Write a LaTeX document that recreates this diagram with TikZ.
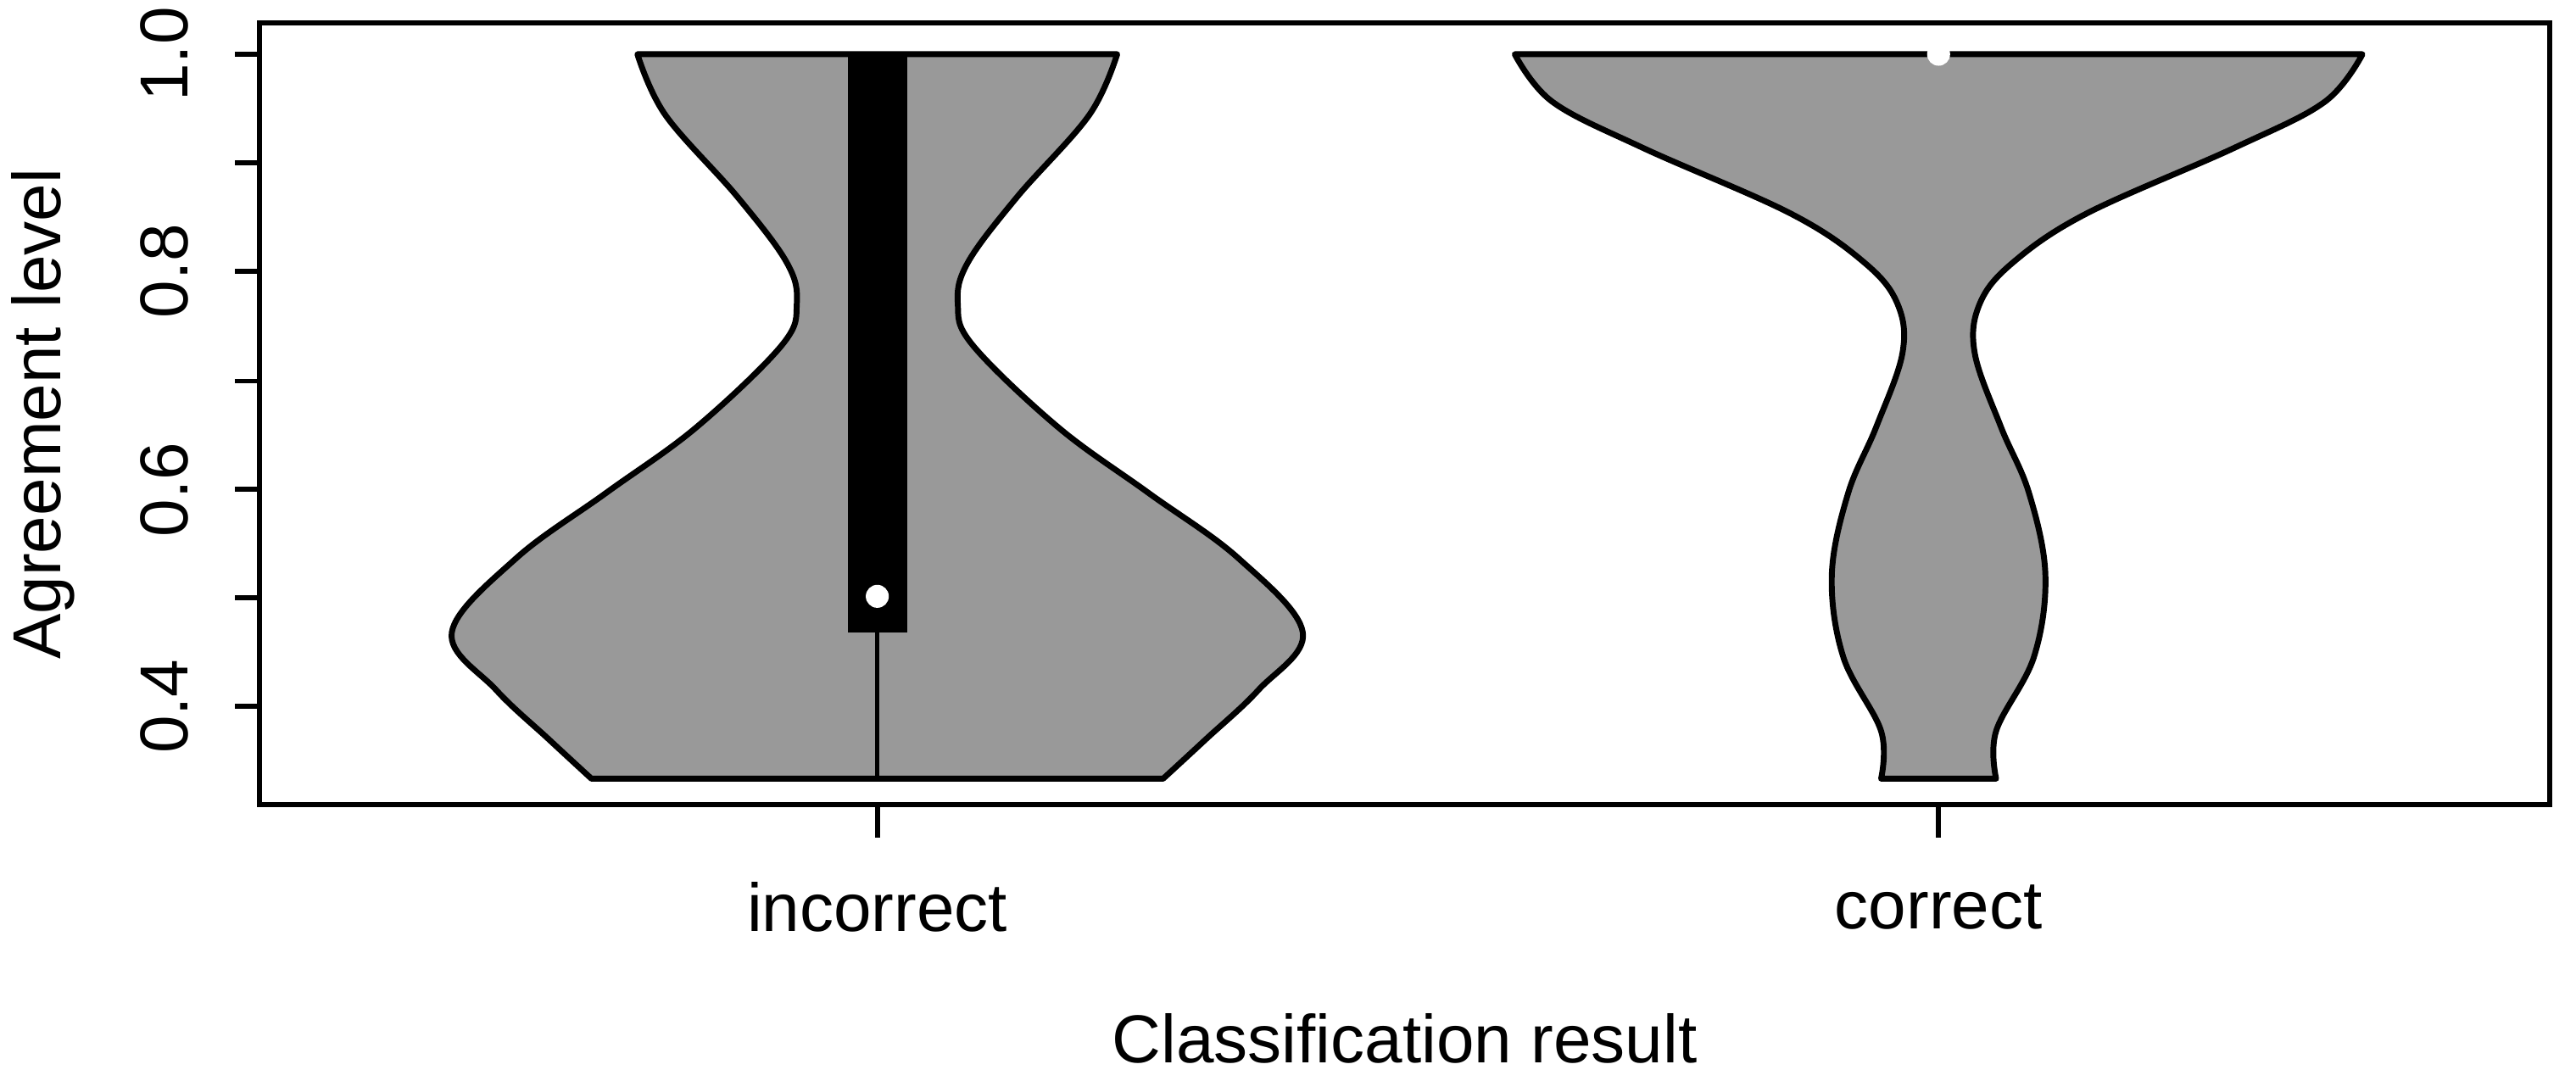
\documentclass[tikz,border=0pt]{standalone}
\usepackage{fontspec}
\setmainfont{Liberation Sans}
\usepackage{tikz}
\begin{document}
\begin{tikzpicture}[x=0.012755cm,y=-0.012755cm]
    \tikzstyle{violin}=[draw=black,line width=1.3pt,fill=black!40,line join=round]
    \tikzstyle{tick}=[line width=1.1pt]
    \tikzstyle{annot}=[font=\fontsize{15}{18}\selectfont]
    \useasboundingbox (0,0) rectangle (1568,658);

    % violins
    \draw[violin] (680,33) -- (388,33) -- plot[smooth,tension=0.6] coordinates {(388,33)(405,70)(449,120)(479,160)(485,185)(476,210)(424,260)(369,300)(314,340)(275,385)(302,420)(334,450)(360,474)}
        -- plot[smooth,tension=0.6] coordinates {(708,474)(734,450)(766,420)(793,385)(754,340)(699,300)(644,260)(592,210)(583,185)(589,160)(619,120)(663,70)(680,33)} -- cycle;
    \draw[violin] (1438,33) -- (922,33) -- plot[smooth,tension=0.6] coordinates {(922,33)(945,62)(1000,90)(1090,130)(1135,160)(1155,185)(1158,215)(1142,260)(1125,300)(1115,350)(1122,400)(1145,445)(1145,474)}
        -- plot[smooth,tension=0.6] coordinates {(1215,474)(1215,445)(1238,400)(1245,350)(1235,300)(1218,260)(1202,215)(1205,185)(1225,160)(1270,130)(1360,90)(1415,62)(1438,33)} -- cycle;

    % box plot
    \draw[line width=1pt] (534,385) -- (534,474);
    \fill (516,33) rectangle (552,385);
    \fill[white] (534,363) circle (7);
    \fill[white] (1180,33) circle (7);

    % frame
    \draw[tick] (158,14) rectangle (1552,490);
    \foreach \v/\y in {0.4/430,0.6/298,0.8/165,1.0/33}
        \node[annot,rotate=90] (yl-\v) at (100,\y) {\v};
    \foreach \y in {33,99,165,232,298,364,430}
        \draw[tick] (158,\y) -- (143,\y);
    \foreach \x/\t in {534/incorrect,1180/correct} {
        \draw[tick] (\x,490) -- (\x,510);
        \node[annot] (xl-\t) at (\x,552) {\t};
    }
    \node[annot] (xlab) at (855,632) {Classification result};
    \node[annot,rotate=90] (ylab) at (26,252) {Agreement level};
\end{tikzpicture}
\end{document}
